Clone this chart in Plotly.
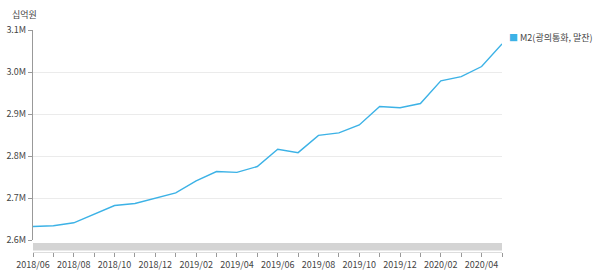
import plotly.graph_objects as go

months = ["2018/06", "2018/07", "2018/08", "2018/09", "2018/10", "2018/11", "2018/12",
          "2019/01", "2019/02", "2019/03", "2019/04", "2019/05", "2019/06", "2019/07",
          "2019/08", "2019/09", "2019/10", "2019/11", "2019/12", "2020/01", "2020/02",
          "2020/03", "2020/04", "2020/05"]
m2_values = [2632000, 2634000, 2641000, 2662000, 2682000, 2687000, 2699000,
             2712000, 2741000, 2763000, 2761000, 2775000, 2816000, 2808000,
             2849000, 2855000, 2874000, 2918000, 2915000, 2925000, 2979000,
             2989000, 3013000, 3067000]
series_name = "M2(광의통화, 말잔)"
unit_label = "십억원"
y_ticks = [2600000, 2700000, 2800000, 2900000, 3000000, 3100000]

tick_text = [m if i % 2 == 0 else "" for i, m in enumerate(months)]

FONT = "Noto Sans CJK KR, Noto Sans, sans-serif"
LINE_COLOR = "#3CB2E6"

fig = go.Figure()
fig.add_trace(go.Scatter(
    x=months, y=m2_values, mode="lines", name=series_name,
    line=dict(color=LINE_COLOR, width=1.4), showlegend=False,
))

W, H = 596, 276
mt, mb, ml, mr = 30, 24, 33, 94
plot_h = H - mt - mb
y_bottom_px = 240  # pixel position of the value axis bottom
dom0 = (H - mb - y_bottom_px) / plot_h

fig.update_layout(
    width=W, height=H,
    margin=dict(l=ml, r=mr, t=mt, b=mb, pad=0, autoexpand=False),
    paper_bgcolor="white", plot_bgcolor="white",
    font=dict(family=FONT, size=9, color="#444"),
    xaxis=dict(
        type="category", range=[0, len(months) - 1],
        tickmode="array", tickvals=months, ticktext=tick_text,
        ticks="outside", ticklen=4, tickcolor="#999", tickwidth=1,
        showline=True, linecolor="#dddddd", linewidth=1,
        showgrid=False, anchor="free", position=0, automargin=False,
        tickfont=dict(size=9, color="#444"), tickangle=0,
    ),
    yaxis=dict(
        domain=[dom0, 1], range=[y_ticks[0], y_ticks[-1]],
        tickmode="array", tickvals=y_ticks, tickformat=".2s",
        ticks="outside", ticklen=4, tickcolor="#999", automargin=False,
        showline=True, linecolor="#999", linewidth=1,
        gridcolor="#ebebeb", zeroline=False,
        tickfont=dict(size=9, color="#444"),
    ),
    shapes=[dict(
        type="rect", xref="paper", yref="paper",
        x0=0, x1=1,
        y0=(H - mb - 250.5) / plot_h, y1=(H - mb - 243) / plot_h,
        fillcolor="#d4d4d4", line=dict(width=0), layer="below",
    )],
    annotations=[
        dict(text=unit_label, xref="paper", yref="paper",
             x=(10 - ml) / (W - ml - mr), y=1 + (mt - 14) / plot_h,
             xanchor="left", yanchor="middle", showarrow=False,
             font=dict(size=9, color="#444")),
        dict(text=f"<span style='color:{LINE_COLOR}'>■</span> {series_name}",
             xref="paper", yref="paper",
             x=(507 - ml) / (W - ml - mr), y=1 - (37 - mt) / plot_h,
             xanchor="left", yanchor="middle", showarrow=False,
             font=dict(size=9, color="#444")),
    ],
)

fig.write_html("out.html")
